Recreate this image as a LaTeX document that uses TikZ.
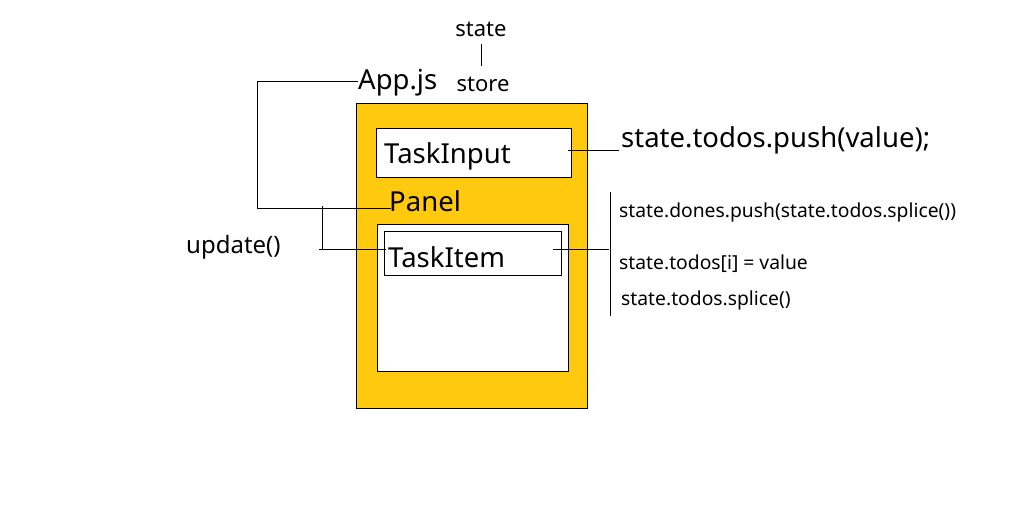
\documentclass[tikz,border=0pt]{standalone}
\usepackage{fontspec}
\setmainfont{Noto Sans}
\definecolor{panelyellow}{HTML}{FFC90E}
\begin{document}
\begin{tikzpicture}[x=1pt,y=-1pt,
  line/.style={black,line width=1pt},
  box/.style={draw=black,line width=1pt,fill=white,anchor=north west,inner sep=0pt},
  lbl/.style={anchor=west,inner sep=0pt,text=black},
  big/.style={font=\fontsize{27.5}{31}\selectfont},
  mid/.style={font=\fontsize{22}{26}\selectfont},
  upd/.style={font=\fontsize{24}{28}\selectfont},
  small/.style={font=\fontsize{19.3}{23}\selectfont}]
\useasboundingbox (0,0) rectangle (1018,516);
\fill[white] (0,0) rectangle (1018,516);
% panel background
\node[box,fill=panelyellow,minimum width=231pt,minimum height=305pt] (outer) at (356,103) {};
\node[box,minimum width=195pt,minimum height=49pt] (tibox) at (376,128) {};
\node[box,minimum width=191pt,minimum height=147pt] (panelbox) at (377,224) {};
\node[box,minimum width=177pt,minimum height=44pt] (itembox) at (384,231) {};
% texts
\node[lbl,mid,anchor=center] (state) at (481,29) {state};
\node[lbl,mid,anchor=center] (store) at (483,84) {store};
\node[lbl,big] (appjs) at (358,83) {App.js};
\node[lbl,big] (taskinput) at (384,156) {TaskInput};
\node[lbl,big] (panel) at (389,201) {Panel};
\node[lbl,big] (taskitem) at (388,257) {TaskItem};
\node[lbl,upd] (update) at (186,247) {update()};
\node[lbl,big] (push) at (621,140) {state.todos.push(value);};
\node[lbl,small] (dones) at (619,212) {state.dones.push(state.todos.splice())};
\node[lbl,small] (assign) at (619,264) {state.todos[i] = value};
\node[lbl,small] (splice) at (621,300) {state.todos.splice()};
% coordinates
\coordinate (stA) at (481,44);
\coordinate (stB) at (481,66);
\coordinate (aL) at (257,82);
\coordinate (aD) at (257,208);
\coordinate (pR) at (391,208);
\coordinate (uT) at (322,206);
\coordinate (uB) at (322,250);
\coordinate (uL) at (319,249);
\coordinate (tR) at (386,249);
\coordinate (iR1) at (553,249);
\coordinate (iR2) at (609,249);
\coordinate (inR1) at (568,151);
\coordinate (inR2) at (619,151);
\coordinate (brT) at (610,192);
\coordinate (brB) at (610,316);
% connectors
\draw[line] (stA) -- (stB);
\draw[line] (appjs.west |- aL) -- (aL) -- (aD) -- (pR);
\draw[line] (uT) -- (uB);
\draw[line] (uL) -- (tR);
\draw[line] (inR1) -- (inR2);
\draw[line] (iR1) -- (iR2);
\draw[line] (brT) -- (brB);
\end{tikzpicture}
\end{document}
